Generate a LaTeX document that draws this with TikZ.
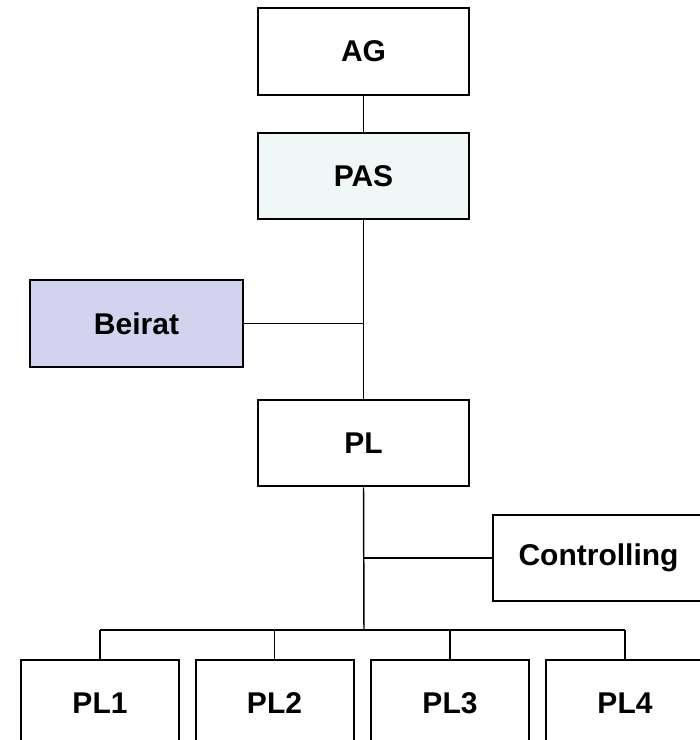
\documentclass[tikz,border=0pt]{standalone}
\usepackage{fontspec}
\setmainfont{Liberation Sans}
\definecolor{pasfill}{HTML}{EFF8F6}
\definecolor{beiratfill}{HTML}{D3D3F0}
\begin{document}
\begin{tikzpicture}[x=0.75pt,y=-0.75pt,
  box/.style={draw=black, line width=1.5pt, fill=white, rectangle, inner sep=0pt,
    minimum width=158.5pt, minimum height=65pt,
    font=\fontsize{22.5}{26}\selectfont\bfseries},
  smallbox/.style={box, minimum width=118.5pt},
  link/.style={draw=black, line width=1.1pt}]
\clip (0,0) rectangle (700,740);
\fill[white] (0,0) rectangle (700,740);

% boxes
\node[box] (ag) at (363.5,51.5) {AG};
\node[box, fill=pasfill] (pas) at (363.5,176) {PAS};
\node[box, fill=beiratfill, minimum width=160pt] (beirat) at (136.5,323.5) {Beirat};
\node[box] (pl) at (363.5,443) {PL};
\node[box] (ctrl) at (598.5,558) {Controlling};
\node[smallbox] (pl1) at (100,703.5) {PL1};
\node[smallbox] (pl2) at (274.5,703.5) {PL2};
\node[smallbox] (pl3) at (450,703.5) {PL3};
\node[smallbox] (pl4) at (625,703.5) {PL4};

% junction points on the main line
\coordinate (jb) at (pas.south |- beirat.east);
\coordinate (jc) at (pl.south |- ctrl.west);
\coordinate (bus) at (364,630);
\coordinate (bus1) at (pl1.north |- bus);
\coordinate (bus4) at (pl4.north |- bus);

% connectors
\draw[link] (ag.south) -- (pas.north);
\draw[link] (pas.south) -- (pl.north);
\draw[link] (beirat.east) -- (jb);
\draw[link] (pl.south) -- (bus);
\draw[link] (ctrl.west) -- (jc);
\draw[link] (bus1) -- (bus4);
\draw[link] (bus1) -- (pl1.north);
\draw[link] (pl2.north |- bus) -- (pl2.north);
\draw[link] (pl3.north |- bus) -- (pl3.north);
\draw[link] (bus4) -- (pl4.north);
\end{tikzpicture}
\end{document}
